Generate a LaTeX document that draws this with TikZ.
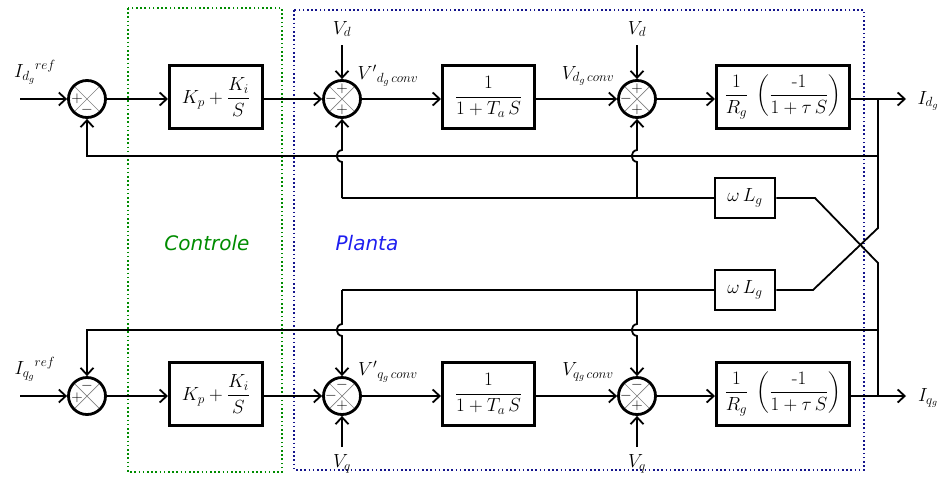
\RequirePackage{fix-cm}
\documentclass[tikz,border=0pt]{standalone}
\usepackage{amsmath}
\usepackage{fontspec}
\newfontfamily\lblfont{DejaVu Sans}
\usetikzlibrary{arrows.meta}
\definecolor{ctrlgreen}{RGB}{0,140,0}
\definecolor{plantblue}{RGB}{20,20,140}
\definecolor{plantxt}{RGB}{30,30,240}
\begin{document}
\begin{tikzpicture}[x=1pt,y=-1pt,
  wire/.style={line width=1.8pt},
  sig/.style={wire, -{Straight Barb[length=7pt,width=13pt]}},
  blk/.style={draw, line width=3pt, minimum height=63pt, inner sep=2pt, font=\fontsize{19}{23}\selectfont},
  wblk/.style={draw, line width=2.8pt, minimum width=60pt, minimum height=40pt, inner sep=2pt, font=\fontsize{19}{23}\selectfont},
  sumj/.style={circle, draw, line width=2.8pt, minimum size=37pt, inner sep=0pt,
    path picture={\draw[gray, line width=0.7pt]
      (path picture bounding box.north west) -- (path picture bounding box.south east)
      (path picture bounding box.north east) -- (path picture bounding box.south west);}},
  sgn/.style={inner sep=0pt, font=\fontsize{15}{15}\selectfont},
  lbl/.style={inner sep=0pt, font=\fontsize{19}{23}\selectfont},
  region/.style={line width=1.6pt, dash pattern=on 1.6pt off 2.6pt}]
\useasboundingbox (0,0) rectangle (941,482);
% regions
\draw[region, ctrlgreen] (128,8) rectangle (282,472);
\draw[region, plantblue] (294,10) rectangle (864,470);
\node[font=\lblfont\itshape\fontsize{20}{24}\selectfont, text=ctrlgreen] (tctrl) at (207,243) {Controle};
\node[font=\lblfont\itshape\fontsize{20}{24}\selectfont, text=plantxt] (tplant) at (367,243) {Planta};

% ---------- top row ----------
\node[sumj] (S1) at (87,99) {};
\node[blk, minimum width=93pt] (PI1) at (216,97) {$K_p+\dfrac{K_i}{S}$};
\node[sumj] (S2) at (342,99) {};
\node[blk, minimum width=92pt] (TF1) at (488.5,97) {$\dfrac{1}{1+T_a\,S}$};
\node[sumj] (S3) at (637,99) {};
\node[blk, minimum width=133pt] (G1) at (783,97) {$\dfrac{1}{R_g}\;\left(\dfrac{\text{-}1}{1+\tau\,S}\right)$};

\path (S1) ++(-10,0) node[sgn] (s1a) {$+$};
\path (S1) ++(0,11) node[sgn] (s1b) {$-$};
\path (S2) ++(0,-10) node[sgn] (s2a) {$+$};
\path (S2) ++(-11,0) node[sgn] (s2b) {$-$};
\path (S2) ++(0,11) node[sgn] (s2c) {$+$};
\path (S3) ++(0,-10) node[sgn] (s3a) {$+$};
\path (S3) ++(-11,0) node[sgn] (s3b) {$-$};
\path (S3) ++(0,11) node[sgn] (s3c) {$+$};

\coordinate (in1) at (20,99);
\node[lbl] (Iref1) at (35,72) {${I_{d_g}}^{ref}$};
\draw[sig] (in1) -- (S1.west);
\draw[sig] (S1.east) -- (S1.east -| PI1.west);
\draw[sig] (PI1.east |- S2.west) -- (S2.west);
\draw[sig] (S2.east) -- (S2.east -| TF1.west);
\draw[sig] (TF1.east |- S3.west) -- (S3.west);
\draw[sig] (S3.east) -- (S3.east -| G1.west);
\coordinate (T1) at (878,99);
\coordinate (O1) at (906,99);
\draw[sig] (G1.east |- T1) -- (O1);
\node[lbl] (Iout1) at (928,101) {$I_{d_g}$};

\coordinate (vd1) at (342,45);
\node[lbl] (Vd1) at (342,29) {$V_d$};
\draw[sig] (vd1) -- (S2.north);
\coordinate (vd2) at (637,45);
\node[lbl] (Vd2) at (637,29) {$V_d$};
\draw[sig] (vd2) -- (S3.north);
\node[lbl] (Vp1) at (388,76) {${V'}_{d_g\,conv}$};
\node[lbl] (Vc1) at (588,76) {$V_{d_g\,conv}$};

% ---------- bottom row ----------
\node[sumj] (S4) at (87,396) {};
\node[blk, minimum width=93pt] (PI2) at (216,394) {$K_p+\dfrac{K_i}{S}$};
\node[sumj] (S5) at (342,396) {};
\node[blk, minimum width=92pt] (TF2) at (488.5,394) {$\dfrac{1}{1+T_a\,S}$};
\node[sumj] (S6) at (637,396) {};
\node[blk, minimum width=133pt] (G2) at (783,394) {$\dfrac{1}{R_g}\;\left(\dfrac{\text{-}1}{1+\tau\,S}\right)$};

\path (S4) ++(-10,2) node[sgn] (s4a) {$+$};
\path (S4) ++(0,-10) node[sgn] (s4b) {$-$};
\path (S5) ++(0,-11) node[sgn] (s5a) {$-$};
\path (S5) ++(-11,0) node[sgn] (s5b) {$-$};
\path (S5) ++(0,10) node[sgn] (s5c) {$+$};
\path (S6) ++(0,-11) node[sgn] (s6a) {$-$};
\path (S6) ++(-11,0) node[sgn] (s6b) {$-$};
\path (S6) ++(0,10) node[sgn] (s6c) {$+$};

\coordinate (in2) at (20,396);
\node[lbl] (Iref2) at (35,369) {${I_{q_g}}^{ref}$};
\draw[sig] (in2) -- (S4.west);
\draw[sig] (S4.east) -- (S4.east -| PI2.west);
\draw[sig] (PI2.east |- S5.west) -- (S5.west);
\draw[sig] (S5.east) -- (S5.east -| TF2.west);
\draw[sig] (TF2.east |- S6.west) -- (S6.west);
\draw[sig] (S6.east) -- (S6.east -| G2.west);
\coordinate (T2) at (878,396);
\coordinate (O2) at (906,396);
\draw[sig] (G2.east |- T2) -- (O2);
\node[lbl] (Iout2) at (928,398) {$I_{q_g}$};

\coordinate (vq1) at (342,447);
\node[lbl] (Vq1) at (342,464) {$V_q$};
\draw[sig] (vq1) -- (S5.south);
\coordinate (vq2) at (637,447);
\node[lbl] (Vq2) at (637,464) {$V_q$};
\draw[sig] (vq2) -- (S6.south);
\node[lbl] (Vp2) at (388,372) {${V'}_{q_g\,conv}$};
\node[lbl] (Vc2) at (588,372) {$V_{q_g\,conv}$};

% ---------- feedback ----------
\coordinate (fbT) at (878,156);
\draw[sig] (T1) -- (fbT) -| (S1.south);
\coordinate (fbB) at (878,330);
\draw[sig] (fbB) -| (S4.north);

% ---------- cross coupling ----------
\node[wblk] (WL1) at (745,198) {$\omega\,L_g$};
\node[wblk] (WL2) at (745,290) {$\omega\,L_g$};
\coordinate (X1) at (878,228);
\coordinate (X2) at (813,290);
\coordinate (X3) at (815,198);
\coordinate (X4) at (878,263);
\draw[wire] (fbT) -- (X1) -- (X2) -- (WL2.east);
\draw[wire] (WL1.east) -- (X3) -- (X4) -- (T2);

\coordinate (A1) at (342,198);
\coordinate (B1) at (637,198);
\draw[wire] (WL1.west) -- (A1);
\draw[sig] (A1) -- (342,162) .. controls (335,161) and (335,151) .. (342,150) -- (S2.south);
\draw[sig] (B1) -- (637,162) .. controls (630,161) and (630,151) .. (637,150) -- (S3.south);

\coordinate (A2) at (342,290);
\coordinate (B2) at (637,290);
\draw[wire] (WL2.west) -- (A2);
\draw[sig] (A2) -- (342,324) .. controls (335,325) and (335,335) .. (342,336) -- (S5.north);
\draw[sig] (B2) -- (637,324) .. controls (630,325) and (630,335) .. (637,336) -- (S6.north);
\end{tikzpicture}
\end{document}
